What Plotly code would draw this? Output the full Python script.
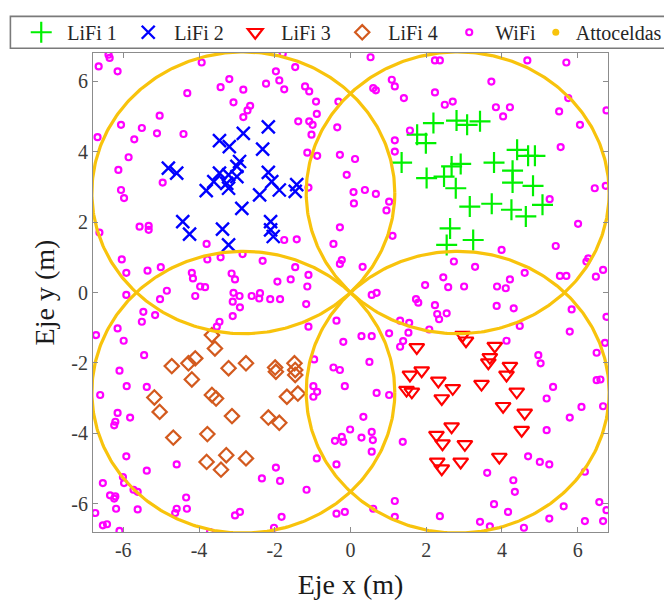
import numpy as np
import plotly.graph_objects as go

# ---------------- data ----------------
lifi1_x = [2.19, 2.80, 3.08, 3.42, 1.76, 1.99, 1.35, 2.67, 2.91, 2.01, 2.47, 2.78, 3.79, 4.40,
           4.69, 4.87, 4.28, 4.28, 4.82, 3.15, 3.73, 4.25, 4.63, 5.07, 2.63, 3.24, 2.54]
lifi1_y = [4.81, 4.88, 4.76, 4.86, 4.48, 4.24, 3.69, 3.58, 3.65, 3.25, 3.29, 2.96, 3.69, 4.05,
           3.88, 3.88, 3.46, 3.12, 3.03, 2.44, 2.52, 2.35, 2.16, 2.49, 1.82, 1.49, 1.35]

lifi2_x = [-2.17, -2.83, -3.46, -3.20, -2.32, -2.93, -3.00, -4.81, -4.59, -3.46, -3.22, -3.00,
           -2.17, -3.61, -3.27, -3.22, -3.81, -2.08, -1.88, -2.40, -1.46, -1.42, -2.87, -4.43,
           -4.25, -3.38, -2.11, -2.11, -2.04, -3.22]
lifi2_y = [4.70, 4.52, 4.31, 4.14, 4.07, 3.72, 3.58, 3.53, 3.39, 3.39, 3.34, 3.29, 3.41, 3.15,
           3.10, 2.96, 2.89, 3.15, 2.91, 2.77, 2.87, 3.06, 2.39, 2.01, 1.66, 1.80, 2.01, 1.78,
           1.59, 1.35]

lifi3_x = [2.96, 3.05, 1.75, 3.81, 3.68, 3.64, 4.21, 4.12, 1.57, 1.88, 2.32, 2.70, 3.46, 4.39,
           1.48, 1.62, 2.41, 4.03, 4.60, 2.67, 2.27, 2.43, 3.02, 4.52, 3.93, 2.29, 2.41, 2.91]
lifi3_y = [-1.21, -1.37, -1.56, -1.52, -1.84, -1.99, -2.09, -2.34, -2.34, -2.22, -2.51, -2.72,
           -2.60, -2.82, -2.77, -2.82, -3.01, -3.23, -3.42, -3.81, -4.05, -4.29, -4.31, -3.91,
           -4.67, -4.81, -5.00, -4.81]

lifi4_x = [-3.66, -3.58, -4.72, -4.28, -4.10, -4.19, -3.22, -2.76, -1.99, -1.97, -1.48, -1.46,
           -1.46, -5.18, -5.04, -3.66, -3.55, -3.13, -1.68, -1.39, -2.17, -1.88, -4.68, -3.78,
           -3.80, -3.28, -3.42, -2.76]
lifi4_y = [-1.21, -1.59, -2.09, -2.01, -1.87, -2.47, -2.15, -2.01, -2.13, -2.25, -2.01, -2.20,
           -2.34, -2.98, -3.39, -2.91, -3.01, -3.51, -2.96, -2.87, -3.55, -3.70, -4.12, -4.02,
           -4.81, -4.62, -5.03, -4.71]

wifi_x = [
    -6.65, -6.39, -6.36, -6.15, -3.93, -1.79, -1.97, -1.46, -1.88, -1.75, -3.20, -3.43, -2.83,
    -2.23, -1.20, -1.09, -4.31, -3.09, -2.65, -2.72, -2.83, -0.91, -0.89, -0.32, -5.04, -6.06,
    -5.51, -5.71, -5.11, -4.41, -6.68, -1.38, -1.09, -1.00, -1.03, -0.35, -5.86, -1.14, -0.88,
    -0.28, -6.13, -4.96, -6.06, -5.98, -0.10, -1.11, -6.63, -5.57, -5.33, -5.33, -0.28, -3.80,
    -3.43, -2.85, -1.75, -1.42, -0.45, -6.04, -5.92, -5.36, -5.01, -3.78, -2.32, -1.46, -1.11,
    -1.14, -1.58, -1.93, -0.23, -0.28, -4.19, -4.16, -3.14, -3.05, -3.97, -3.84,
    0.53, 2.23, 2.36, 4.67, 5.70, 1.09, 1.17, 0.60, 0.67, 3.72, 2.23, 1.41, 2.49, 2.70, 3.84,
    4.21, 4.03, 5.75, 5.51, 6.76, 6.06, 1.57, 1.17, 1.17, 0.12, 5.55, 0.08, 0.38, 0.67, 0.09,
    1.02, 0.95, 5.26, 6.45, 6.74, 6.01, 1.11, 5.42, 3.99, 6.28, 6.23, 6.67, 6.48, 5.53, 5.70,
    2.73, 3.29, 2.45, 2.58, 3.00, 1.97, 3.87, 4.10, 4.21, 4.60, 0.32,
    -5.92, -4.85, -5.03, -4.10, -3.09, -2.93, -3.11, -2.92, -2.61, -2.39, -2.41, -2.12, -1.86,
    -1.17, -3.11, -3.46, -3.53, -1.11, -6.72, -6.15, -5.99, -5.47, -5.51, -5.16, -5.45, -6.10,
    -5.91, -6.61, -5.38, -6.15, -6.21, -6.24, -5.82, -5.92, -5.38, -4.59, -6.54, -6.35, -6.21,
    -6.24, -6.01, -5.98, -5.73, -5.62, -6.19, -5.62, -6.74, -6.54, -6.43, -6.10, -4.59, -4.34,
    -4.32, -4.63, -3.71, -3.05, -2.92, -1.97, -1.86, -2.34, -2.02, -1.82, -1.16, -0.89, -0.98,
    -0.98, -0.88, -0.96, -0.45, -0.28, -0.15, -0.37, -0.19, -0.41, -0.23, -0.19, -0.01, -0.37,
    -0.37, -0.15,
    0.56, 0.69, 1.73, 1.79, 2.23, 2.54, 2.29, 2.34, 3.86, 4.31, 1.31, 1.55, 2.08, 1.53, 1.39,
    1.31, 1.02, 0.56, 0.29, 4.47, 4.12, 5.84, 5.79, 6.76, 6.72, 6.50, 4.96, 5.02, 0.50, 0.69,
    1.02, 5.35, 5.18, 6.10, 5.79, 6.50, 6.60, 6.67, 0.34, 0.29, 0.56, 0.59, 0.56, 1.38, 5.18,
    4.69, 5.00, 5.25, 3.61, 4.30, 4.34, 6.19, 1.17, 0.60, 1.17, 2.36, 3.42, 3.68, 3.79, 4.16,
    4.58, 5.25, 5.63, 6.19, 6.57, 6.76, 6.67]
wifi_y = [
    6.42, 6.75, 6.66, 6.28, 6.53, 6.78, 6.28, 6.40, 6.02, 5.77, 6.06, 5.83, 5.76, 5.93, 5.85,
    5.71, 5.66, 5.40, 5.30, 5.17, 4.98, 5.42, 5.07, 5.42, 5.02, 4.76, 4.67, 4.35, 4.52, 4.50,
    4.41, 4.86, 4.86, 4.76, 4.48, 4.69, 3.84, 3.97, 3.88, 3.91, 3.48, 3.12, 2.91, 2.68, 3.34,
    2.98, 1.70, 1.87, 1.89, 1.78, 1.85, 1.38, 1.00, 1.09, 1.49, 1.51, 1.38, 0.94, 0.56, 0.62,
    0.72, 0.94, 0.90, 0.72, 0.50, 0.17, 0.37, 0.31, 0.92, 0.81, 0.56, 0.40, 0.54, 0.37, 0.17,
    0.15,
    6.68, 6.59, 6.59, 6.59, 6.53, 6.04, 5.85, 5.80, 5.74, 5.99, 5.68, 5.52, 5.33, 5.42, 5.26,
    5.26, 5.00, 5.52, 5.14, 5.17, 4.76, 4.60, 4.32, 4.00, 3.79, 4.13, 2.85, 2.91, 2.80, 2.53,
    2.58, 2.33, 2.65, 2.96, 3.03, 1.95, 1.61, 1.32, 1.21, 0.97, 0.88, 0.64, 0.45, 0.47, 0.47,
    0.88, 0.73, 0.43, 0.15, 0.17, 0.21, 0.17, 0.12, 0.37, 0.56, 0.73,
    -0.07, 0.05, -0.19, -0.10, -0.01, -0.10, -0.26, -0.42, -0.10, -0.02, -0.17, -0.19, -0.19,
    -0.33, -0.67, -0.83, -0.97, -0.97, -1.21, -1.02, -1.37, -0.55, -0.83, -0.64, -1.78, -2.22,
    -2.66, -2.91, -2.68, -3.42, -3.67, -3.77, -3.55, -4.65, -5.06, -4.88, -5.41, -5.76, -5.79,
    -5.85, -5.24, -5.41, -5.60, -5.66, -6.14, -6.16, -6.26, -6.61, -6.58, -6.77, -6.14, -5.82,
    -6.14, -6.26, -6.80, -6.33, -6.23, -4.97, -5.35, -5.28, -6.68, -6.37, -5.60, -4.71, -2.66,
    -2.96, -2.82, -1.90, -2.13, -2.20, -2.66, -0.80, -1.40, -4.21, -4.10, -4.24, -3.89, -4.88,
    -6.28, -6.23,
    -0.07, -0.01, -0.19, -0.29, -0.36, -0.59, -0.61, -0.76, -0.38, -0.45, -0.80, -0.86, -1.05,
    -1.14, -1.38, -1.54, -1.16, -1.24, -1.24, -0.95, -1.37, -0.48, -1.11, -0.69, -1.43, -1.71,
    -1.78, -2.01, -1.97, -2.85, -2.91, -2.68, -3.01, -3.25, -3.55, -2.49, -2.47, -3.23, -3.53,
    -4.12, -3.96, -4.19, -4.52, -4.24, -3.91, -4.65, -4.81, -4.88, -5.12, -5.33, -5.66, -5.09,
    -5.92, -6.14, -6.37, -6.35, -6.51, -6.64, -6.01, -6.23, -6.68, -6.42, -6.07, -6.49, -5.95,
    -6.18, -6.49]

atto_cx = [2.83, -2.83, -2.83, 2.83]
atto_cy = [2.83, 2.83, -2.83, -2.83]
atto_r = [4.0, 4.0, 4.0, 4.0]

tick_vals = [-6, -4, -2, 0, 2, 4, 6]
tick_text = ["-6", "-4", "-2", "0", "2", "4", "6"]

series_names = ["LiFi 1", "LiFi 2", "LiFi 3", "LiFi 4", "WiFi", "Attoceldas"]

# ---------------- figure ----------------
FONT = "Liberation Serif"
GOLD = "#F8C30C"

fig = go.Figure()
fig.add_trace(go.Scatter(x=lifi1_x, y=lifi1_y, mode="markers", name=series_names[0],
                         marker=dict(symbol="cross-thin", size=15,
                                     line=dict(color="#00F000", width=2.2))))
fig.add_trace(go.Scatter(x=lifi2_x, y=lifi2_y, mode="markers", name=series_names[1],
                         marker=dict(symbol="x-thin", size=13,
                                     line=dict(color="#0000FF", width=2.4))))
fig.add_trace(go.Scatter(x=lifi3_x, y=lifi3_y, mode="markers", name=series_names[2],
                         marker=dict(symbol="triangle-down-open", size=13, color="#FF0000",
                                     line=dict(color="#FF0000", width=2.2))))
fig.add_trace(go.Scatter(x=lifi4_x, y=lifi4_y, mode="markers", name=series_names[3],
                         marker=dict(symbol="diamond-open", size=11, color="#D35A1E",
                                     line=dict(color="#D35A1E", width=2.2))))
fig.add_trace(go.Scatter(x=wifi_x, y=wifi_y, mode="markers", name=series_names[4],
                         marker=dict(symbol="circle-open", size=6, color="#FF00FF",
                                     line=dict(color="#FF00FF", width=2.2))))

theta = np.linspace(0, 2 * np.pi, 361)
cxs, cys = [], []
for cx, cy, r in zip(atto_cx, atto_cy, atto_r):
    cxs += list(cx + r * np.cos(theta)) + [None]
    cys += list(cy + r * np.sin(theta)) + [None]
fig.add_trace(go.Scatter(x=cxs, y=cys, mode="lines", showlegend=False,
                         line=dict(color=GOLD, width=3.2), hoverinfo="skip"))
fig.add_trace(go.Scatter(x=[None], y=[None], mode="markers", name=series_names[5],
                         marker=dict(symbol="circle", size=7, color=GOLD), legend="legend2"))

axis_common = dict(range=[-6.8, 6.8], tickmode="array", tickvals=tick_vals, ticktext=tick_text,
                   ticks="inside", ticklen=5, tickcolor="#8c8c8c", showline=True,
                   linecolor="#8c8c8c", linewidth=1, mirror="ticks", zeroline=False,
                   showgrid=False, tickfont=dict(family=FONT, size=20, color="#3a3a3a"))

LEG_Y = 1.084
fig.update_layout(
    width=664, height=604,
    margin=dict(l=93, r=56, t=53, b=72, autoexpand=False),
    paper_bgcolor="white", plot_bgcolor="white",
    font=dict(family=FONT, color="#222"),
    xaxis=dict(**axis_common, title=dict(text="Eje x (m)", standoff=14,
                                         font=dict(family=FONT, size=28, color="#1a1a1a"))),
    yaxis=dict(**axis_common, title=dict(text="Eje y (m)", standoff=8,
                                         font=dict(family=FONT, size=28, color="#1a1a1a"))),
    legend=dict(orientation="h", x=-0.151, xanchor="left", y=LEG_Y, yanchor="top",
                font=dict(family=FONT, size=20, color="#262626"), bgcolor="rgba(0,0,0,0)",
                borderwidth=0, itemwidth=42, entrywidth=50, entrywidthmode="pixels",
                traceorder="normal"),
    legend2=dict(orientation="h", x=(536 - 92.7) / 515.6, xanchor="left", y=LEG_Y,
                 yanchor="top", font=dict(family=FONT, size=20, color="#262626"),
                 bgcolor="rgba(0,0,0,0)", borderwidth=0, itemwidth=30),
    shapes=[dict(type="rect", xref="paper", yref="paper",
                 x0=(10 - 92.7) / 515.6, x1=1.2,
                 y0=(531.7 - 48.5) / 478.4, y1=(531.7 - 16.7) / 478.4,
                 line=dict(color="#7a7a7a", width=1.6), fillcolor="white", layer="below")],
)

fig.write_html("out.html")
